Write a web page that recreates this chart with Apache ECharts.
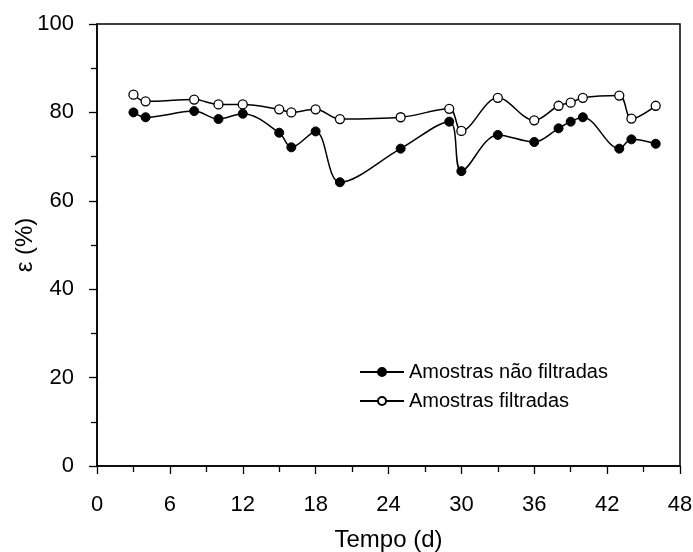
<!DOCTYPE html>
<html>
<head>
<meta charset="utf-8">
<script src="https://cdn.jsdelivr.net/npm/echarts@6/dist/echarts.min.js"></script>
<style>
  html, body { margin: 0; padding: 0; background: #fff; }
  #chart { width: 693px; height: 552px; }
</style>
</head>
<body>
<div id="chart"></div>
<script>
// dias de amostragem
const dias = [3, 4, 8, 10, 12, 15, 16, 18, 20, 25, 29, 30, 33, 36, 38, 39, 40, 43, 44, 46];
// eficiencia (%)
const naoFiltradas = [80.0, 78.9, 80.3, 78.5, 79.7, 75.4, 72.1, 75.7, 64.2, 71.8, 77.9, 66.7, 74.9, 73.3, 76.4, 77.9, 78.9, 71.8, 73.9, 72.9];
const filtradas = [84.0, 82.5, 82.9, 81.8, 81.8, 80.7, 80.0, 80.7, 78.5, 78.9, 80.8, 75.8, 83.3, 78.2, 81.5, 82.2, 83.3, 83.8, 78.6, 81.5];

const nomes = ["Amostras não filtradas", "Amostras filtradas"];
const fonte = "Liberation Sans, Arial, sans-serif";

const chart = echarts.init(document.getElementById("chart"));

const option = {
  animation: false,
  backgroundColor: "#fff",
  textStyle: { fontFamily: fonte, color: "#000" },
  grid: {
    left: 97,
    right: 13,
    top: 24,
    bottom: 86,
    containLabel: false,
    outerBoundsMode: "none",
    show: true,
    borderColor: "#000",
    borderWidth: 1.5,
  },
  legend: {
    orient: "vertical",
    left: 359,
    top: 362,
    padding: 0,
    itemWidth: 44,
    itemHeight: 10,
    itemGap: 9,
    textStyle: { fontSize: 20, color: "#000", fontFamily: fonte },
    data: nomes,
  },
  xAxis: {
    type: "value",
    min: 0,
    max: 48,
    interval: 6,
    name: "Tempo (d)",
    nameLocation: "middle",
    nameGap: 62,
    nameMoveOverlap: false,
    nameTextStyle: { fontSize: 24, color: "#000", fontFamily: fonte },
    axisLine: { onZero: false, lineStyle: { color: "#000", width: 1.5 } },
    axisTick: { show: true, length: 8, lineStyle: { color: "#000", width: 1.3 } },
    minorTick: { show: true, splitNumber: 2, length: 6, lineStyle: { color: "#000", width: 1.3 } },
    axisLabel: { fontSize: 22, color: "#000", margin: 28 },
    splitLine: { show: false },
  },
  yAxis: {
    type: "value",
    min: 0,
    max: 100,
    interval: 20,
    name: "ε (%)",
    nameLocation: "middle",
    nameGap: 60,
    nameMoveOverlap: false,
    nameTextStyle: { fontSize: 24, color: "#000", fontFamily: fonte },
    axisLine: { onZero: false, lineStyle: { color: "#000", width: 1.5 } },
    axisTick: { show: true, length: 8, lineStyle: { color: "#000", width: 1.3 } },
    minorTick: { show: true, splitNumber: 2, length: 6, lineStyle: { color: "#000", width: 1.3 } },
    axisLabel: { fontSize: 22, color: "#000", margin: 23 },
    splitLine: { show: false },
  },
  series: [
    {
      name: nomes[0],
      type: "line",
      smooth: 0.35,
      symbol: "circle",
      symbolSize: 9,
      lineStyle: { color: "#000", width: 1.5 },
      itemStyle: { color: "#000", borderColor: "#000", borderWidth: 1 },
      data: dias.map((d, i) => [d, naoFiltradas[i]]),
    },
    {
      name: nomes[1],
      type: "line",
      smooth: 0.35,
      symbol: "circle",
      symbolSize: 9,
      lineStyle: { color: "#000", width: 1.5 },
      itemStyle: { color: "#fff", borderColor: "#000", borderWidth: 1.3 },
      data: dias.map((d, i) => [d, filtradas[i]]),
    },
  ],
};

chart.setOption(option);
</script>
</body>
</html>
